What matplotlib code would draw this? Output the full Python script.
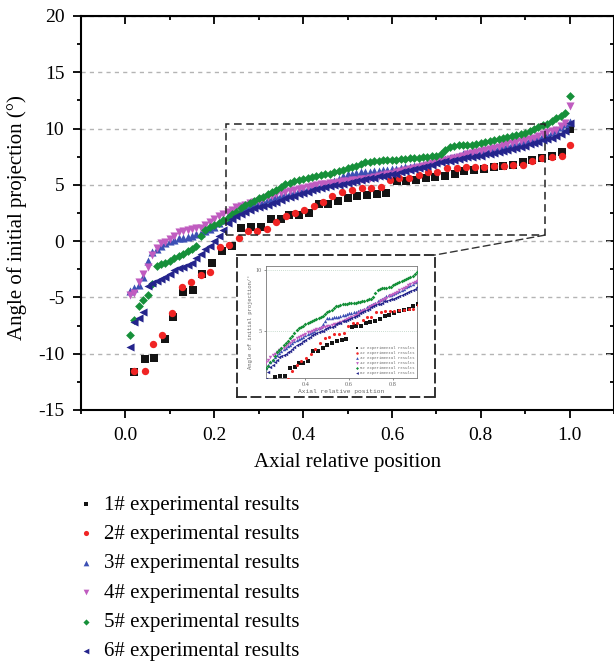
import matplotlib
matplotlib.use("Agg")
import matplotlib.pyplot as plt
from matplotlib.patches import Rectangle, ConnectionPatch
from matplotlib.ticker import MultipleLocator, FormatStrFormatter

plt.rcParams['font.family'] = ['Liberation Serif', 'DejaVu Serif']
plt.rcParams['axes.unicode_minus'] = False

labels = ["1# experimental results", "2# experimental results", "3# experimental results",
          "4# experimental results", "5# experimental results", "6# experimental results"]

# sparse series (1#, 2#)
x1 = [0.020, 0.043, 0.065, 0.088, 0.108, 0.130, 0.153, 0.173, 0.196, 0.218, 0.240, 0.261,
      0.283, 0.306, 0.328, 0.351, 0.369, 0.391, 0.413, 0.436, 0.456, 0.479, 0.501, 0.521,
      0.544, 0.566, 0.587, 0.611, 0.631, 0.654, 0.676, 0.697, 0.719, 0.742, 0.762, 0.784,
      0.807, 0.829, 0.849, 0.872, 0.894, 0.915, 0.937, 0.960, 0.982, 1.000]
y1 = [-11.6, -10.5, -10.4, -8.7, -6.7, -4.5, -4.3, -2.9, -1.9, -0.9, -0.4, 1.2,
      1.25, 1.3, 1.95, 2.0, 2.3, 2.3, 2.5, 3.3, 3.3, 3.6, 3.8, 4.0,
      4.1, 4.2, 4.3, 5.3, 5.35, 5.4, 5.6, 5.7, 5.8, 5.95, 6.2, 6.3,
      6.4, 6.6, 6.7, 6.8, 7.0, 7.2, 7.4, 7.6, 7.9, 9.95]

x2 = [0.020, 0.043, 0.063, 0.083, 0.106, 0.128, 0.148, 0.171, 0.191, 0.213, 0.234, 0.256,
      0.276, 0.297, 0.319, 0.339, 0.362, 0.382, 0.402, 0.425, 0.445, 0.465, 0.488, 0.510,
      0.533, 0.553, 0.575, 0.596, 0.616, 0.638, 0.661, 0.681, 0.701, 0.724, 0.746, 0.766,
      0.787, 0.807, 0.829, 0.852, 0.872, 0.894, 0.915, 0.937, 0.960, 0.982, 1.000]
y2 = [-11.5, -11.5, -9.1, -8.3, -6.4, -4.1, -3.6, -3.0, -2.7, -0.5, -0.35, 0.3,
      0.9, 0.9, 1.05, 1.7, 2.2, 2.5, 2.75, 3.1, 3.5, 4.0, 4.4, 4.5,
      4.7, 4.7, 4.8, 5.4, 5.6, 5.6, 5.85, 6.1, 6.1, 6.5, 6.5, 6.6,
      6.6, 6.6, 6.65, 6.7, 6.75, 6.8, 7.1, 7.4, 7.5, 7.55, 8.5]

# dense series (3# - 6#) share the same positions
xd = [0.01, 0.02, 0.03, 0.04, 0.05, 0.06, 0.07, 0.08, 0.09, 0.10,
      0.11, 0.12, 0.13, 0.14, 0.15, 0.16, 0.17, 0.18, 0.19, 0.20,
      0.21, 0.22, 0.23, 0.24, 0.25, 0.26, 0.27, 0.28, 0.29, 0.30,
      0.31, 0.32, 0.33, 0.34, 0.35, 0.36, 0.37, 0.38, 0.39, 0.40,
      0.41, 0.42, 0.43, 0.44, 0.45, 0.46, 0.47, 0.48, 0.49, 0.50,
      0.51, 0.52, 0.53, 0.54, 0.55, 0.56, 0.57, 0.58, 0.59, 0.60,
      0.61, 0.62, 0.63, 0.64, 0.65, 0.66, 0.67, 0.68, 0.69, 0.70,
      0.71, 0.72, 0.73, 0.74, 0.75, 0.76, 0.77, 0.78, 0.79, 0.80,
      0.81, 0.82, 0.83, 0.84, 0.85, 0.86, 0.87, 0.88, 0.89, 0.90,
      0.91, 0.92, 0.93, 0.94, 0.95, 0.96, 0.97, 0.98, 0.99, 1.00]

y3 = [-4.4, -4.2, -3.9, -3.2, -1.8, -1.0, -0.7, -0.4, -0.2, 0.0,
      0.1, 0.25, 0.3, 0.4, 0.5, 0.6, 0.75, 0.9, 1.1, 1.3,
      1.6, 1.9, 2.2, 2.4, 2.6, 2.8, 3.0, 3.15, 3.3, 3.45,
      3.6, 3.7, 3.85, 4.0, 4.1, 4.2, 4.3, 4.4, 4.5, 4.6,
      4.7, 4.8, 4.9, 5.0, 5.1, 5.2, 5.3, 5.5, 5.8, 6.0,
      6.0, 6.05, 6.1, 6.1, 6.15, 6.2, 6.25, 6.3, 6.35, 6.4,
      6.45, 6.5, 6.55, 6.6, 6.65, 6.7, 6.8, 6.9, 7.0, 7.1,
      7.2, 7.3, 7.4, 7.5, 7.6, 7.7, 7.8, 7.9, 7.95, 8.0,
      8.1, 8.15, 8.25, 8.35, 8.45, 8.55, 8.65, 8.75, 8.85, 8.95,
      9.05, 9.15, 9.25, 9.4, 9.55, 9.7, 9.9, 10.1, 10.4, 10.6]

y4 = [-4.8, -4.6, -3.6, -2.9, -2.3, -1.2, -0.6, -0.2, -0.1, 0.2,
      0.5, 0.8, 0.9, 1.0, 1.1, 1.15, 1.2, 1.4, 1.7, 2.0,
      2.2, 2.4, 2.6, 2.8, 3.0, 3.1, 3.2, 3.4, 3.5, 3.6,
      3.75, 3.9, 4.0, 4.15, 4.25, 4.35, 4.45, 4.55, 4.65, 4.75,
      4.85, 4.9, 5.0, 5.05, 5.1, 5.15, 5.2, 5.25, 5.3, 5.35,
      5.4, 5.45, 5.5, 5.55, 5.6, 5.7, 5.8, 5.85, 5.95, 6.0,
      6.1, 6.2, 6.3, 6.4, 6.5, 6.6, 6.7, 6.8, 6.9, 7.0,
      7.1, 7.2, 7.3, 7.4, 7.5, 7.6, 7.7, 7.8, 7.9, 8.0,
      8.1, 8.2, 8.3, 8.4, 8.5, 8.6, 8.7, 8.8, 8.9, 9.0,
      9.1, 9.2, 9.3, 9.5, 9.7, 9.8, 9.9, 10.2, 10.5, 12.0]

y5 = [-8.3, -7.0, -5.8, -5.2, -4.8, -3.8, -2.2, -2.0, -1.9, -1.8,
      -1.5, -1.3, -1.1, -0.9, -0.7, -0.4, 0.5, 1.0, 1.25, 1.45,
      1.65, 1.9, 2.1, 2.4, 2.6, 2.9, 3.2, 3.4, 3.6, 3.8,
      3.95, 4.15, 4.35, 4.55, 4.8, 5.05, 5.2, 5.3, 5.4, 5.5,
      5.6, 5.7, 5.8, 5.9, 5.95, 6.0, 6.1, 6.2, 6.35, 6.5,
      6.6, 6.7, 6.85, 7.0, 7.05, 7.1, 7.15, 7.2, 7.2, 7.25,
      7.25, 7.3, 7.3, 7.35, 7.35, 7.4, 7.45, 7.5, 7.55, 7.6,
      7.75, 8.1, 8.35, 8.45, 8.5, 8.5, 8.5, 8.55, 8.6, 8.7,
      8.8, 8.9, 9.0, 9.1, 9.15, 9.25, 9.35, 9.4, 9.5, 9.65,
      9.8, 9.95, 10.1, 10.3, 10.45, 10.7, 10.9, 11.15, 11.4, 12.9]

y6 = [-9.4, -7.2, -6.8, -6.3, -4.0, -3.7, -3.5, -3.4, -3.2, -2.9,
      -2.6, -2.4, -2.3, -2.1, -1.9, -1.5, -1.1, -0.7, -0.4, 0.0,
      0.5, 1.0, 1.6, 2.0, 2.2, 2.4, 2.6, 2.8, 2.9, 3.0,
      3.1, 3.2, 3.35, 3.5, 3.65, 3.8, 3.9, 4.0, 4.15, 4.25,
      4.35, 4.5, 4.6, 4.7, 4.8, 4.9, 4.95, 5.0, 5.1, 5.2,
      5.25, 5.3, 5.4, 5.5, 5.6, 5.65, 5.75, 5.8, 5.9, 5.95,
      6.0, 6.1, 6.2, 6.3, 6.4, 6.5, 6.6, 6.7, 6.8, 6.9,
      7.0, 7.1, 7.15, 7.2, 7.3, 7.4, 7.45, 7.5, 7.55, 7.6,
      7.7, 7.75, 7.85, 7.9, 8.0, 8.1, 8.2, 8.25, 8.35, 8.45,
      8.6, 8.75, 8.85, 8.95, 9.05, 9.2, 9.35, 9.55, 9.8, 10.5]

series = [(x1, y1), (x2, y2), (xd, y3), (xd, y4), (xd, y5), (xd, y6)]
markers = ["s", "o", "^", "v", "D", "<"]
colors = ["#141414", "#f02424", "#3c50b4", "#c05cc0", "#16903a", "#24248c"]
sizes = [26, 28, 34, 34, 20, 34]

W, H = 614, 663
fig = plt.figure(figsize=(W / 100, H / 100), dpi=100)
ax = fig.add_axes([81 / W, 1 - 410 / H, 533 / W, 394 / H])

for (x, y), m, c, s, lab in zip(series, markers, colors, sizes, labels):
    ax.scatter(x, y, marker=m, s=s, c=c, linewidths=0, label=lab, zorder=3)

ax.set_xlim(-0.1, 1.1)
ax.set_ylim(-15, 20)
ax.xaxis.set_major_locator(MultipleLocator(0.2))
ax.xaxis.set_minor_locator(MultipleLocator(0.1))
ax.xaxis.set_major_formatter(FormatStrFormatter('%.1f'))
ax.yaxis.set_major_locator(MultipleLocator(5))
ax.yaxis.set_minor_locator(MultipleLocator(2.5))
ax.tick_params(which='major', direction='out', length=6, width=1.3, labelsize=14, pad=6)
ax.tick_params(which='minor', direction='out', length=3, width=1.3)
for s in ax.spines.values():
    s.set_linewidth(1.5)
ax.yaxis.grid(True, which='major', linestyle=(0, (3, 3)), color='#b4b4b4', lw=1)
ax.set_axisbelow(True)

# mirrored ticks pointing inwards on top and right
top = ax.secondary_xaxis('top')
top.xaxis.set_major_locator(MultipleLocator(0.2))
top.xaxis.set_minor_locator(MultipleLocator(0.1))
top.tick_params(which='major', direction='in', length=6, width=1.3, labeltop=False)
top.tick_params(which='minor', direction='in', length=3, width=1.3)
right = ax.secondary_yaxis('right')
right.yaxis.set_major_locator(MultipleLocator(5))
right.yaxis.set_minor_locator(MultipleLocator(2.5))
right.tick_params(which='major', direction='in', length=6, width=1.3, labelright=False)
right.tick_params(which='minor', direction='in', length=3, width=1.3)

ax.set_xlabel("Axial relative position", fontsize=15)
ax.xaxis.set_label_coords(0.5, -(463 - 410) / 394)
ax.xaxis.label.set_va('center')
ax.set_ylabel("Angle of initial projection (°)", fontsize=15)
ax.yaxis.set_label_coords(-(81 - 17) / 533, (410 - 218) / 394)
ax.yaxis.label.set_va('center')

# zoom rectangle
ax.add_patch(Rectangle((0.227, 0.53), 0.944 - 0.227, 10.4 - 0.53, fill=False,
                       ls=(0, (5, 3)), lw=1.1, ec='#222222', zorder=4))

# inset frame
box = fig.add_axes([237 / W, 1 - 397 / H, 198 / W, 142 / H])
box.set_xticks([])
box.set_yticks([])
box.set_facecolor('white')
for s in box.spines.values():
    s.set_linestyle((0, (5, 3)))
    s.set_linewidth(1.3)
    s.set_color('#222222')

con = ConnectionPatch(xyA=(0.944, 0.53), coordsA=ax.transData, xyB=(1, 1), coordsB=box.transAxes,
                      ls=(0, (5, 3)), lw=1.0, color='#333333')
fig.add_artist(con)

ins = fig.add_axes([266 / W, 1 - 378 / H, 151 / W, 112 / H])
for (x, y), m, c, s, lab in zip(series, markers, colors, sizes, labels):
    ins.scatter(x, y, marker=m, s=s * 0.18, c=c, linewidths=0, label=lab, zorder=3)
ins.set_xlim(0.22, 0.91)
ins.set_ylim(1.1, 10.3)
ins.set_xticks([0.4, 0.6, 0.8])
ins.set_yticks([5, 10])
ins.xaxis.set_major_formatter(FormatStrFormatter('%.1f'))
ins.tick_params(labelsize=4.5, length=1.5, width=0.5, pad=1.5, colors='#666666')
ins.yaxis.grid(True, linestyle=(0, (1, 1.5)), color='#b8d0c0', lw=0.6)
for s in ins.spines.values():
    s.set_linewidth(0.6)
    s.set_color('#777777')
ins.set_xlabel("Axial relative position", fontsize=4.5, family='Liberation Mono', color='#666666', labelpad=1.5)
ins.set_ylabel("Angle of initial projection/°", fontsize=4, family='Liberation Mono', color='#666666', labelpad=2)
ins.legend(loc='lower right', frameon=False, handlelength=0.6, handletextpad=0.4,
           labelspacing=0.25, markerscale=0.8, borderaxespad=0.3, prop={'family': 'Liberation Mono', 'size': 2.8},
           labelcolor='#666666')

ax.legend(loc='upper left', bbox_to_anchor=(78 / W, 1 - 495 / H), bbox_transform=fig.transFigure,
          frameon=False, fontsize=15, handlelength=0.8, handletextpad=0.45, labelspacing=0.47,
          borderpad=0, borderaxespad=0, markerscale=0.7)

fig.savefig("out.png", dpi=100)
